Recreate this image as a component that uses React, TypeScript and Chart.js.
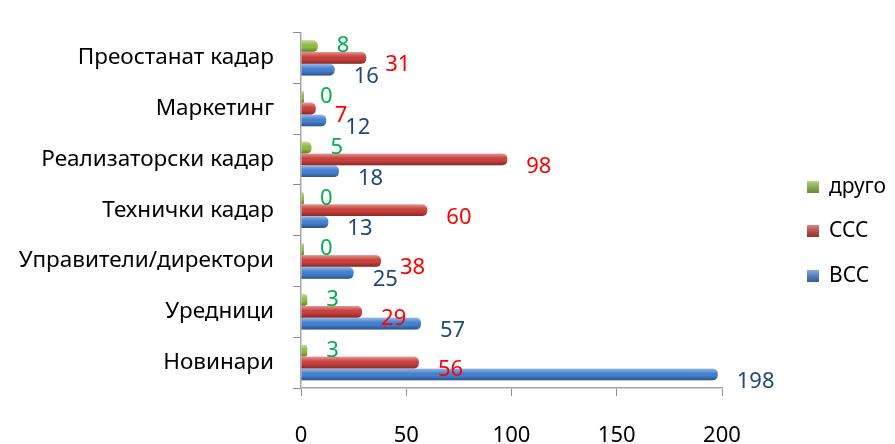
import { useEffect, useRef } from "react";
import { Chart, registerables } from "chart.js";
Chart.register(...registerables);

const categories = [
  "Преостанат кадар",
  "Маркетинг",
  "Реализаторски кадар",
  "Технички кадар",
  "Управители/директори",
  "Уредници",
  "Новинари",
];
const seriesNames = ["друго", "ССС", "ВСС"];
const drugo = [8, 0, 5, 0, 0, 3, 3];
const sss = [31, 7, 98, 60, 38, 29, 56];
const vss = [16, 12, 18, 13, 25, 57, 198];
const xTicks = [0, 50, 100, 150, 200];

const barColors = ["#92BB45", "#C8403C", "#4480D0"];
const labelColors = ["#00B050", "#FF0000", "#1F497D"];
const FONT = "'Noto Sans', sans-serif";

function roundRect(ctx: CanvasRenderingContext2D, x: number, y: number, w: number, h: number, r: number) {
  const rr = Math.min(r, h / 2, Math.abs(w) / 2);
  ctx.beginPath();
  ctx.moveTo(x, y);
  ctx.lineTo(x + w - rr, y);
  ctx.quadraticCurveTo(x + w, y, x + w, y + rr);
  ctx.lineTo(x + w, y + h - rr);
  ctx.quadraticCurveTo(x + w, y + h, x + w - rr, y + h);
  ctx.lineTo(x, y + h);
  ctx.closePath();
}

const shadePlugin = {
  id: "shade",
  afterDatasetsDraw(chart: any) {
    const ctx = chart.ctx as CanvasRenderingContext2D;
    chart.data.datasets.forEach((_: any, i: number) => {
      const meta = chart.getDatasetMeta(i);
      meta.data.forEach((el: any) => {
        const h = el.height;
        const top = el.y - h / 2;
        const w = el.x - el.base;
        if (w <= 0) return;
        const g = ctx.createLinearGradient(0, top, 0, top + h);
        g.addColorStop(0, "rgba(255,255,255,0.45)");
        g.addColorStop(0.35, "rgba(255,255,255,0.05)");
        g.addColorStop(0.6, "rgba(0,0,0,0)");
        g.addColorStop(1, "rgba(0,0,0,0.35)");
        ctx.save();
        roundRect(ctx, el.base, top, w, h, 5);
        ctx.fillStyle = g;
        ctx.fill();
        ctx.restore();
      });
    });
  },
};

const labelPlugin = {
  id: "valueLabels",
  afterDatasetsDraw(chart: any) {
    const ctx = chart.ctx as CanvasRenderingContext2D;
    const yOff = [0, 7, 7];
    ctx.save();
    ctx.font = `22px ${FONT}`;
    ctx.textAlign = "left";
    ctx.textBaseline = "middle";
    chart.data.datasets.forEach((ds: any, i: number) => {
      const meta = chart.getDatasetMeta(i);
      const x0 = chart.scales.x.getPixelForValue(0);
      meta.data.forEach((el: any, j: number) => {
        const v = ds.data[j];
        const end = chart.scales.x.getPixelForValue(v);
        ctx.fillStyle = labelColors[i];
        ctx.fillText(String(v), Math.max(end, x0) + 19, el.y + yOff[i]);
      });
    });
    ctx.restore();
  },
};

const legendPlugin = {
  id: "customLegend",
  afterDraw(chart: any) {
    const ctx = chart.ctx as CanvasRenderingContext2D;
    const rows = [187, 231, 276];
    ctx.save();
    ctx.font = `21px ${FONT}`;
    ctx.textBaseline = "middle";
    ctx.textAlign = "left";
    seriesNames.forEach((name, i) => {
      const y = rows[i];
      ctx.fillStyle = barColors[i];
      ctx.fillRect(807, y - 6, 12, 12);
      const g = ctx.createLinearGradient(0, y - 6, 0, y + 6);
      g.addColorStop(0, "rgba(255,255,255,0.35)");
      g.addColorStop(1, "rgba(0,0,0,0.25)");
      ctx.fillStyle = g;
      ctx.fillRect(807, y - 6, 12, 12);
      ctx.fillStyle = "#000";
      ctx.fillText(name, 829, y);
    });
    ctx.restore();
  },
};

export default function App() {
  const ref = useRef<HTMLCanvasElement>(null);
  useEffect(() => {
    if (!ref.current) return;
    const seriesData = [drugo, sss, vss];
    const chart = new Chart(ref.current, {
      type: "bar",
      data: {
        labels: categories,
        datasets: seriesNames.map((n, i) => ({
          label: n,
          data: seriesData[i],
          backgroundColor: barColors[i],
          borderRadius: { topRight: 5, bottomRight: 5, topLeft: 0, bottomLeft: 0 },
          borderSkipped: "start" as any,
          categoryPercentage: 0.7,
          barPercentage: 0.98,
          minBarLength: i === 0 ? 3 : 0,
        })),
      },
      options: {
        indexAxis: "y",
        animation: false,
        responsive: true,
        maintainAspectRatio: false,
        layout: { padding: { left: 0, right: 173, top: 24, bottom: 0 } },
        plugins: { legend: { display: false }, tooltip: { enabled: false } },
        scales: {
          x: {
            min: 0,
            max: 200,
            afterBuildTicks: (s: any) => {
              s.ticks = xTicks.map((v) => ({ value: v }));
            },
            afterFit: (s: any) => {
              s.height = 56;
            },
            grid: { drawOnChartArea: false, drawTicks: true, tickLength: 8, color: "#8C8C8C" },
            border: { color: "#A6A6A6", width: 1.5 },
            ticks: { color: "#000", font: { family: FONT, size: 22 }, padding: 27 },
          },
          y: {
            afterFit: (s: any) => {
              s.width = 301;
            },
            grid: { drawOnChartArea: false, drawTicks: true, tickLength: 8, color: "#8C8C8C", offset: true },
            border: { color: "#A6A6A6", width: 1.5 },
            ticks: { color: "#000", font: { family: FONT, size: 22.5 }, padding: 19 },
          },
        },
      },
      plugins: [shadePlugin, labelPlugin, legendPlugin],
    });
    return () => chart.destroy();
  }, []);
  return (
    <div style={{ position: "absolute", left: 0, top: 0, width: 895, height: 444, background: "#fff" }}>
      <canvas ref={ref} />
    </div>
  );
}
